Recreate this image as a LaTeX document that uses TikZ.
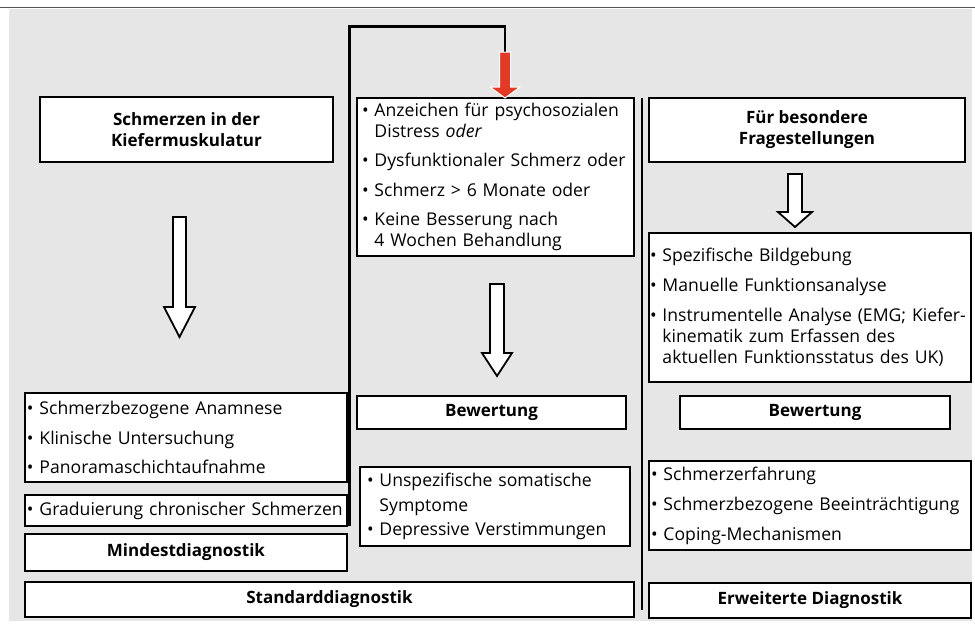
\documentclass[tikz,border=0pt]{standalone}
\usepackage{fontspec}
\setmainfont{Open Sans}
\usepackage{xcolor}
\usepackage{tikz}
\usetikzlibrary{calc}

\definecolor{bggray}{HTML}{E6E6E6}
\definecolor{arrowred}{HTML}{E23A26}
\definecolor{rulegray}{HTML}{555555}

\newcommand{\diagfont}{\fontsize{17.6}{20.5}\selectfont}
\newcommand{\headfont}{\fontsize{17}{21}\selectfont\bfseries}
\newcommand{\bul}{\textbullet\ }
\newcommand{\bulind}{\hphantom{\textbullet\ }}

\tikzstyle{title} = [rectangle, draw=black, fill=white, line width=1.2pt, align=center, font=\headfont, inner sep=0pt]
\tikzstyle{listbox} = [rectangle, draw=black, fill=white, line width=1.2pt, align=left, font=\diagfont, inner ysep=0pt]
\tikzstyle{hollow} = [draw=black, fill=white, line width=1.8pt, line join=miter]
\tikzstyle{redarrow} = [draw=white, fill=arrowred, line width=1pt, line join=miter]
\tikzstyle{divider} = [line width=2.6pt]

\begin{document}
\begin{tikzpicture}[x=1pt, y=-1pt]
        \useasboundingbox (0,0) rectangle (975,625);
        % background
        \fill[bggray] (9,9) rectangle (972,621);
        \draw[rulegray, line width=1.2pt] (0,7.5) -- (975,7.5);

        % left column
        \node (kiefer) [title, minimum width=293pt, minimum height=65pt] at (186.5,129.5) {Schmerzen in der\\Kiefermuskulatur};
        \node (basis) [listbox, text width=318pt, inner xsep=2pt, minimum height=89pt] at (186,437.5)
            {\bul Schmerzbezogene Anamnese\\[9pt]\bul Klinische Untersuchung\\[9pt]\bul Panoramaschichtaufnahme};
        \node (grad) [listbox, text width=318pt, inner xsep=2pt, minimum height=31pt] at (186,510.5)
            {\bul Graduierung chronischer Schmerzen};
        \node (mindest) [title, minimum width=322pt, minimum height=37pt] at (186,552.5) {Mindestdiagnostik};
        \node (standard) [title, minimum width=609pt, minimum height=35pt] at (329.5,599.5) {Standarddiagnostik};

        % middle column
        \node (kriterien) [listbox, text width=267pt, inner xsep=5pt, minimum height=158pt] at (495.5,177)
            {\bul Anzeichen für psychosozialen\\\bulind Distress \textit{oder}\\[9pt]\bul Dysfunktionaler Schmerz oder\\[9pt]\bul Schmerz > 6 Monate oder\\[9pt]\bul Keine Besserung nach\\\bulind 4 Wochen Behandlung};
        \node (bewmitte) [title, minimum width=269pt, minimum height=33pt] at (491.5,412.5) {Bewertung};
        \node (soma) [listbox, text width=256pt, inner xsep=7pt, minimum height=79pt] at (495,506.5)
            {\bul Unspezifische somatische\\[4pt]\bulind Symptome\\[4pt]\bul Depressive Verstimmungen};

        % right column
        \node (frage) [title, minimum width=316pt, minimum height=64pt] at (807,130) {Für besondere\\Fragestellungen};
        \node (spezial) [listbox, text width=320pt, inner xsep=1pt, minimum height=149pt] at (810,307.5)
            {\bul Spezifische Bildgebung\\[9.5pt]\bul Manuelle Funktionsanalyse\\[9.5pt]\bul Instrumentelle Analyse (EMG; Kiefer-\\\bulind kinematik zum Erfassen des\\[1pt]\bulind aktuellen Funktionsstatus des UK)};
        \node (bewrechts) [title, minimum width=270pt, minimum height=33pt] at (815,412.5) {Bewertung};
        \node (psycho) [listbox, text width=318pt, inner xsep=2pt, minimum height=89pt] at (810,505.5)
            {\bul Schmerzerfahrung\\[10pt]\bul Schmerzbezogene Beeinträchtigung\\[9pt]\bul Coping-Mechanismen};
        \node (erweitert) [title, minimum width=322pt, minimum height=35pt] at (810,600.5) {Erweiterte Diagnostik};

        % hollow arrows
        \draw[hollow] (173,217) -- (186,217) -- (186,307) -- (195,307) -- (179.5,337) -- (164,307) -- (173,307) -- cycle;
        \draw[hollow] (490,284) -- (504,284) -- (504,353) -- (512,353) -- (497,376) -- (482,353) -- (490,353) -- cycle;
        \draw[hollow] (788,174) -- (802,174) -- (802,212) -- (812,212) -- (795,227) -- (778,212) -- (788,212) -- cycle;

        % connector to the middle column
        \coordinate (linestart) at (349.5,526);
        \coordinate (bend) at (349.5,26.5);
        \coordinate (redtop) at (505,52);
        \draw[divider, line width=2.4pt] (linestart) -- (bend) -| (redtop);
        \draw[redarrow] (499.5,52) -- (510.5,52) -- (510.5,87) -- (520,87) -- (505,98) -- (490,87) -- (499.5,87) -- cycle;

        % divider
        \coordinate (divtop) at (642,98);
        \coordinate (divbottom) at (642,610);
        \draw[divider] (divtop) -- (divbottom);
\end{tikzpicture}
\end{document}
